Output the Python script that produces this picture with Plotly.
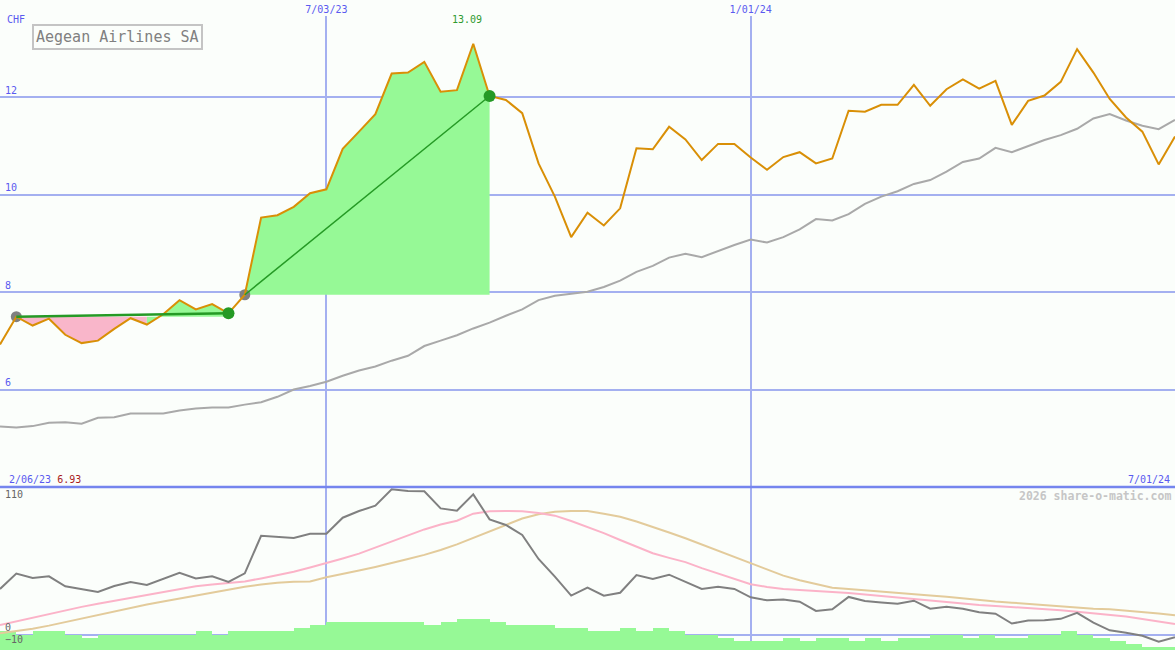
import pandas as pd
import plotly.graph_objects as go

# ---------------- data ----------------
dates = pd.date_range("2023-02-13", periods=73, freq="7D")

price = [6.93, 7.50, 7.32, 7.46, 7.13, 6.96, 7.01, 7.25, 7.47, 7.34,
         7.55, 7.84, 7.65, 7.76, 7.57, 7.95, 9.53, 9.58, 9.75, 10.03,
         10.11, 10.94, 11.29, 11.65, 12.48, 12.50, 12.72, 12.11, 12.14, 13.09,
         12.02, 11.94, 11.67, 10.64, 9.96, 9.13, 9.63, 9.37, 9.72, 10.95,
         10.93, 11.39, 11.13, 10.71, 11.04, 11.04, 10.76, 10.51, 10.77, 10.87,
         10.64, 10.74, 11.72, 11.70, 11.84, 11.84, 12.25, 11.82, 12.16, 12.36,
         12.17, 12.33, 11.43, 11.92, 12.03, 12.31, 12.98, 12.50, 11.96, 11.58,
         11.29, 10.62, 11.19]

moving_avg = [5.25, 5.23, 5.26, 5.33, 5.34, 5.31, 5.43, 5.44, 5.52, 5.52,
              5.52, 5.58, 5.62, 5.64, 5.64, 5.70, 5.75, 5.86, 6.01, 6.08,
              6.17, 6.29, 6.40, 6.48, 6.60, 6.70, 6.90, 7.01, 7.12, 7.26,
              7.38, 7.52, 7.65, 7.84, 7.93, 7.97, 8.01, 8.11, 8.24, 8.42,
              8.54, 8.71, 8.79, 8.72, 8.85, 8.97, 9.08, 9.02, 9.13, 9.29,
              9.50, 9.47, 9.60, 9.81, 9.96, 10.07, 10.22, 10.30, 10.47, 10.67,
              10.74, 10.96, 10.87, 11.00, 11.12, 11.22, 11.35, 11.56, 11.65, 11.52,
              11.41, 11.34, 11.53]

oscillator = [37.8, 50.5, 46.8, 48.2, 40.0, 37.6, 35.4, 40.3, 43.6, 41.1,
              46.0, 51.2, 46.4, 48.2, 43.6, 50.7, 81.8, 81.0, 80.0, 83.5,
              83.5, 96.7, 102.2, 106.6, 120.1, 118.7, 118.5, 104.4, 102.5, 116.0,
              95.3, 90.7, 82.4, 62.6, 48.0, 32.3, 38.9, 32.3, 34.7, 49.3,
              46.0, 49.6, 43.8, 37.8, 39.7, 37.8, 30.9, 28.4, 29.0, 27.3,
              19.6, 21.0, 31.2, 27.8, 26.6, 25.5, 28.1, 21.5, 23.0, 21.5,
              18.5, 17.4, 9.2, 11.8, 11.9, 13.1, 18.0, 10.0, 3.6, 1.7,
              -0.9, -5.8, -2.0]

osc_fast = [8, 11, 14, 17.5, 20, 23, 25.5, 28, 30.5, 33,
            35, 37.5, 40, 41.5, 43, 44, 46.5, 49, 52, 55.5,
            59, 63, 67, 72, 77, 82, 87, 91, 94.2, 100,
            102, 102.2, 102, 100.5, 98.4, 94, 89.3, 84, 78.3, 73,
            67.3, 63.5, 60, 55, 50.7, 46, 41.7, 39.5, 37.8, 37,
            36.3, 35.5, 34.5, 33.2, 32, 30.8, 29.2, 28, 26.8, 25.7,
            24.5, 23.8, 23, 22.2, 21.3, 20.2, 19, 17.8, 16.5, 15,
            13, 11, 8.8]

osc_slow = [1.2, 3, 5, 7.5, 10.5, 13.5, 16, 19, 22, 25,
            27.5, 30, 32.5, 35, 37.5, 39.7, 41.5, 43, 43.8, 44,
            47.5, 50, 53, 56, 59, 62.5, 66, 70, 74.7, 80,
            85, 90.5, 96, 99.5, 101.7, 102.2, 102.2, 100, 97.5, 93.5,
            89.3, 84.5, 79.7, 74.5, 69.2, 64, 59, 54, 48.8, 45,
            41.7, 38.8, 37.8, 36.8, 36.1, 35, 33.8, 32.5, 31.4, 30,
            28.7, 27.5, 26.5, 25.5, 24, 23.2, 22.5, 21.5, 21, 20,
            19, 17.5, 16]

# weekly histogram levels (one per interval between points)
histogram = [3, 0, 3, 3, 0, -2.5, 0, 0, 0, 0,
             0, 0, 3, 0, 3, 3, 3, 3, 5.5, 8,
             10.5, 10.5, 10.5, 10.5, 10.5, 10.5, 8, 10.5, 13, 13,
             10.5, 8, 8, 8, 5.5, 5.5, 3, 3, 5.5, 3,
             5.5, 3, 0, 0, -2.5, -5, -5, -5, -2.5, -5,
             -2.5, -2.5, -5, -2.5, -5, -2.5, -2.5, 0, 0, -2.5,
             0, -2.5, -2.5, 0, 0, 3, 0, -2.5, -5, -7.5,
             -10, -10]

# highlighted trend segments (start index, end index)
segments = [(1, 14), (15, 30)]

x_ticks = ["2023-07-03", "2024-01-01"]
upper_ticks = [6, 8, 10, 12]
lower_ticks = [-10, 0, 110]

# ---------------- styles ----------------
BG = "#fbfefb"
GRID = "#a4b0f0"
BLUE_TXT = "#5a5af0"
ORANGE = "#d98f06"
MA_GREY = "#a9a9a9"
GREEN_FILL = "#96f996"
PINK_FILL = "#f9b6ca"
DARK_GREEN = "#259a25"
MONO = "DejaVu Sans Mono"
SPLIT = 163 / 634  # lower panel height share
HIST_BASE = -30

def fmt(d):
    d = pd.Timestamp(d)
    return f"{d.month}/{d.strftime('%d/%y')}"

fig = go.Figure()

# trend-segment shading
for si, (s, e) in enumerate(segments):
    base = price[s]
    runs = []
    for i in range(s, e):
        up = price[i + 1] >= base
        if runs and runs[-1][2] == up:
            runs[-1][1] = i + 1
        else:
            runs.append([i, i + 1, up])
    for a, b, up in runs:
        xs = list(dates[a:b + 1]) + [dates[b], dates[a]]
        ys = price[a:b + 1] + [base, base]
        fig.add_trace(go.Scatter(x=xs, y=ys, fill="toself", mode="lines",
                                 line=dict(width=0),
                                 fillcolor=GREEN_FILL if up else PINK_FILL,
                                 hoverinfo="skip", xaxis="x", yaxis="y"))

# moving average
fig.add_trace(go.Scatter(x=dates, y=moving_avg, mode="lines",
                         line=dict(color=MA_GREY, width=2), xaxis="x", yaxis="y"))

# start markers (grey)
fig.add_trace(go.Scatter(x=[dates[s] for s, e in segments], y=[price[s] for s, e in segments],
                         mode="markers", marker=dict(color="#808080", size=11),
                         xaxis="x", yaxis="y"))

# price
fig.add_trace(go.Scatter(x=dates, y=price, mode="lines",
                         line=dict(color=ORANGE, width=2), xaxis="x", yaxis="y"))

# segment lines and end markers
for si, (s, e) in enumerate(segments):
    fig.add_trace(go.Scatter(x=[dates[s], dates[e]], y=[price[s], price[e]], mode="lines",
                             line=dict(color=DARK_GREEN, width=2.5 if si == 0 else 1.5),
                             xaxis="x", yaxis="y"))
fig.add_trace(go.Scatter(x=[dates[e] for s, e in segments], y=[price[e] for s, e in segments],
                         mode="markers", marker=dict(color=DARK_GREEN, size=12),
                         xaxis="x", yaxis="y"))

# lower panel: histogram bars
fig.add_trace(go.Bar(x=dates[:-1], y=[h - HIST_BASE for h in histogram], base=HIST_BASE,
                     offset=0, width=7 * 86400000, marker=dict(color=GREEN_FILL, line=dict(width=0)),
                     xaxis="x2", yaxis="y2"))
fig.add_trace(go.Scatter(x=dates, y=osc_slow, mode="lines",
                         line=dict(color="#e3cb9b", width=2), xaxis="x2", yaxis="y2"))
fig.add_trace(go.Scatter(x=dates, y=osc_fast, mode="lines",
                         line=dict(color="#fbb3c8", width=2), xaxis="x2", yaxis="y2"))
fig.add_trace(go.Scatter(x=dates, y=oscillator, mode="lines",
                         line=dict(color="#808080", width=2), xaxis="x2", yaxis="y2"))

# peak label for the main segment
s2, e2 = segments[1]
pk = max(range(s2, e2 + 1), key=lambda i: price[i])

annotations = [
    dict(text="CHF", x=5 / 1175, y=(650 - 20) / 634, xref="paper", yref="paper",
         xanchor="left", yanchor="middle", showarrow=False,
         font=dict(family=MONO, size=10, color=BLUE_TXT)),
    dict(text="Aegean Airlines SA", x=32 / 1175, y=(650 - 24) / 634, xref="paper", yref="paper",
         xanchor="left", yanchor="top", showarrow=False, bordercolor="#c4c4c4", borderwidth=2,
         borderpad=2, bgcolor=BG, font=dict(family=MONO, size=15, color="#808080")),
    dict(text=f"{price[pk]:.2f}", x=dates[pk], y=(650 - 20) / 634, xref="x", yref="paper",
         xanchor="center", yanchor="middle", xshift=-6, showarrow=False,
         font=dict(family=MONO, size=10, color="#2f9a2f")),
    dict(text=f"<span style='color:{BLUE_TXT}'>{fmt(dates[0] - pd.Timedelta(days=7))}</span> "
              f"<span style='color:#a81c1c'>{price[0]:.2f}</span>",
         x=7 / 1175, y=(650 - 479) / 634, xref="paper", yref="paper",
         xanchor="left", yanchor="middle", showarrow=False,
         font=dict(family=MONO, size=10, color=BLUE_TXT)),
    dict(text=fmt(dates[-1]), x=1172 / 1175, y=(650 - 479) / 634, xref="paper", yref="paper",
         xanchor="right", yanchor="middle", showarrow=False,
         font=dict(family=MONO, size=10, color=BLUE_TXT)),
    dict(text="<b>2026 share-o-matic.com</b>", x=1173 / 1175, y=(650 - 496) / 634,
         xref="paper", yref="paper", xanchor="right", yanchor="middle", showarrow=False,
         font=dict(family=MONO, size=11.5, color="#c6c6c6")),
]

fig.update_layout(
    width=1175, height=650,
    margin=dict(l=0, r=0, t=16, b=0),
    paper_bgcolor=BG, plot_bgcolor=BG,
    showlegend=False, bargap=0,
    annotations=annotations,
    xaxis=dict(domain=[0, 1], anchor="y", side="top", type="date",
               range=[dates[0], dates[-1]],
               tickvals=x_ticks, ticktext=[fmt(t) for t in x_ticks],
               tickfont=dict(family=MONO, size=10, color=BLUE_TXT), ticks="",
               showgrid=True, gridcolor=GRID, gridwidth=2, zeroline=False, showline=False),
    xaxis2=dict(domain=[0, 1], anchor="y2", type="date", matches="x",
                range=[dates[0], dates[-1]], tickvals=x_ticks, showticklabels=False, ticks="",
                showgrid=True, gridcolor=GRID, gridwidth=1.5, zeroline=False, showline=False),
    yaxis=dict(domain=[SPLIT, 1], range=[4.013, 13.659], tickvals=upper_ticks,
               ticklabelposition="inside top", ticks="", ticklabelstandoff=2,
               tickfont=dict(family=MONO, size=10, color=BLUE_TXT),
               showgrid=True, gridcolor=GRID, gridwidth=2, zeroline=False, showline=False),
    yaxis2=dict(domain=[0, SPLIT], range=[-12.64, 122.07], tickvals=lower_ticks,
                ticklabelposition="inside top", ticks="", ticklabelstandoff=2,
                tickfont=dict(family=MONO, size=10, color="#666666"),
                showgrid=False, zeroline=True, zerolinecolor=GRID, zerolinewidth=2,
                showline=False),
    shapes=[dict(type="line", xref="paper", yref="paper", x0=0, x1=1, y0=SPLIT, y1=SPLIT,
                 line=dict(color="#7585ee", width=2.5))],
)

fig.write_html("out.html", config={"displayModeBar": False},
               post_script="document.body.style.margin='0px';document.body.style.overflow='hidden';")
